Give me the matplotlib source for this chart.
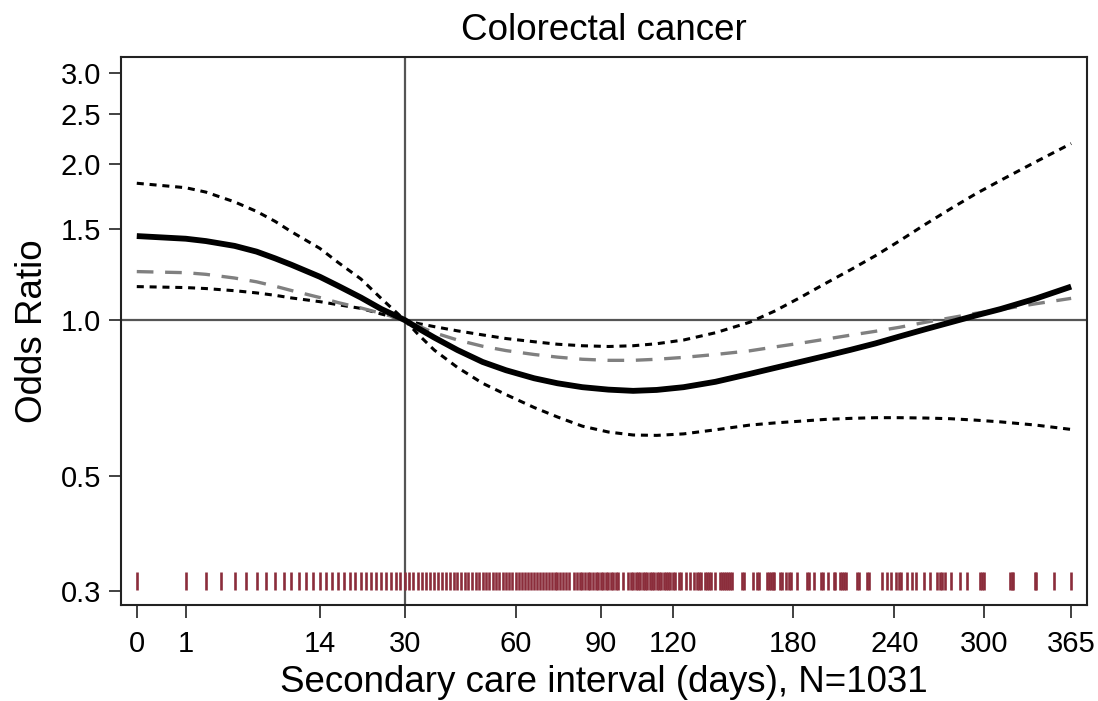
import numpy as np
import matplotlib
matplotlib.use("Agg")
import matplotlib.pyplot as plt

plt.rcParams.update({
    "font.family": ["Liberation Sans", "DejaVu Sans"],
    "font.size": 20,
})

# --- Data ---
days = [0, 1, 2, 4, 6, 8, 10, 14, 17, 21, 25, 30, 33, 37, 43, 50, 57, 66, 74, 83, 93,
        103, 113, 125, 140, 157, 170, 184, 198, 213, 228, 243, 260, 277, 294, 312, 338, 365]

or_main = [1.452, 1.435, 1.42, 1.39, 1.355, 1.315, 1.278, 1.212, 1.163, 1.105, 1.05, 1.0,
           0.965, 0.925, 0.875, 0.83, 0.8, 0.772, 0.755, 0.742, 0.734,
           0.73, 0.733, 0.742, 0.76, 0.787, 0.808, 0.83, 0.852, 0.876, 0.901, 0.929,
           0.96, 0.99, 1.02, 1.05, 1.10, 1.16]
or_alt = [1.24, 1.234, 1.225, 1.205, 1.185, 1.162, 1.14, 1.105, 1.08, 1.055, 1.03, 1.0,
          0.975, 0.945, 0.915, 0.89, 0.873, 0.858, 0.848, 0.84, 0.836,
          0.836, 0.84, 0.847, 0.858, 0.872, 0.887, 0.902, 0.918, 0.935, 0.951, 0.968,
          0.99, 1.01, 1.03, 1.048, 1.075, 1.101]
ci_steep = [1.836, 1.8, 1.765, 1.69, 1.62, 1.55, 1.48, 1.375, 1.29, 1.2, 1.1, 1.0,
            0.94, 0.875, 0.81, 0.755, 0.718, 0.678, 0.65, 0.624, 0.608,
            0.60, 0.599, 0.603, 0.614, 0.627, 0.633, 0.638, 0.643, 0.646, 0.648, 0.648,
            0.647, 0.645, 0.641, 0.636, 0.627, 0.615]
ci_flat = [1.16, 1.155, 1.15, 1.139, 1.128, 1.116, 1.103, 1.085, 1.07, 1.053, 1.027, 1.0,
           0.985, 0.971, 0.953, 0.936, 0.921, 0.908, 0.898, 0.892, 0.889,
           0.892, 0.9, 0.915, 0.945, 0.99, 1.04, 1.105, 1.175, 1.25, 1.33, 1.42,
           1.53, 1.64, 1.75, 1.86, 2.02, 2.19]

# observed intervals (rug)
rug_days = (list(range(0, 79)) + list(range(80, 98))
            + [99, 101] + list(range(102, 122)) + [123, 124, 126, 128, 130, 131, 132, 133,
               135, 136, 137, 138, 140, 142, 143, 144, 145, 146, 147, 148, 153, 154, 159,
               161, 162, 166, 167, 168, 169, 170, 173, 174, 176, 178, 179, 182, 188, 189,
               192, 196, 197, 200, 203, 204, 207, 208, 209, 210, 217, 218, 223, 224, 232,
               235, 238, 241, 243, 244, 248, 251, 254, 259, 263, 268, 270, 271, 273, 277,
               283, 288, 297, 299, 300, 319, 320, 321, 337, 338, 352, 365])

x_ticks = [0, 1, 14, 30, 60, 90, 120, 180, 240, 300, 365]
y_ticks = [0.3, 0.5, 1.0, 1.5, 2.0, 2.5, 3.0]


def fwd(x):
    x = np.asarray(x, dtype=float)
    return np.sign(x) * np.sqrt(np.abs(x))


def inv(x):
    x = np.asarray(x, dtype=float)
    return np.sign(x) * x ** 2


# --- Plot ---
fig = plt.figure(figsize=(10.98, 7.01), dpi=100)
ax = fig.add_axes([0.110, 0.137, 0.880, 0.782])
ax.set_xscale("function", functions=(fwd, inv))
ax.set_yscale("log")

ax.axhline(1.0, color="#555555", lw=1.6, zorder=1)
ax.axvline(30, color="#555555", lw=1.6, zorder=1)

ax.vlines(rug_days, 0.302, 0.326, color="#8B2D3B", lw=1.9, zorder=2)

ax.plot(days, ci_steep, color="black", lw=2.2, dashes=(2.3, 1.9), zorder=3)
ax.plot(days, ci_flat, color="black", lw=2.2, dashes=(2.3, 1.9), zorder=3)
ax.plot(days, or_alt, color="#808080", lw=2.4, dashes=(5, 3.5), zorder=4)
ax.plot(days, or_main, color="black", lw=4.2, solid_capstyle="butt",
        solid_joinstyle="round", zorder=5)

ax.set_xlim(-0.107, 377.5)
ax.set_ylim(0.282, 3.22)

ax.set_xticks(x_ticks)
ax.set_xticklabels([str(t) for t in x_ticks])
ax.yaxis.set_minor_locator(matplotlib.ticker.NullLocator())
ax.xaxis.set_minor_locator(matplotlib.ticker.NullLocator())
ax.set_yticks(y_ticks)
ax.set_yticklabels([f"{t:.1f}" for t in y_ticks])

ax.tick_params(axis="both", direction="out", length=9, width=1.3, labelsize=21, color="#333333")
ax.tick_params(axis="x", pad=9)
ax.tick_params(axis="y", pad=5)
for s in ax.spines.values():
    s.set_linewidth(1.5)
    s.set_color("#222222")

ax.set_xlabel("Secondary care interval (days), N=1031", fontsize=26.5, labelpad=5)
ax.set_ylabel("Odds Ratio", fontsize=26.5, labelpad=8)
ax.set_title("Colorectal cancer", fontsize=26.5, pad=12)

fig.savefig("out.png", dpi=100)
